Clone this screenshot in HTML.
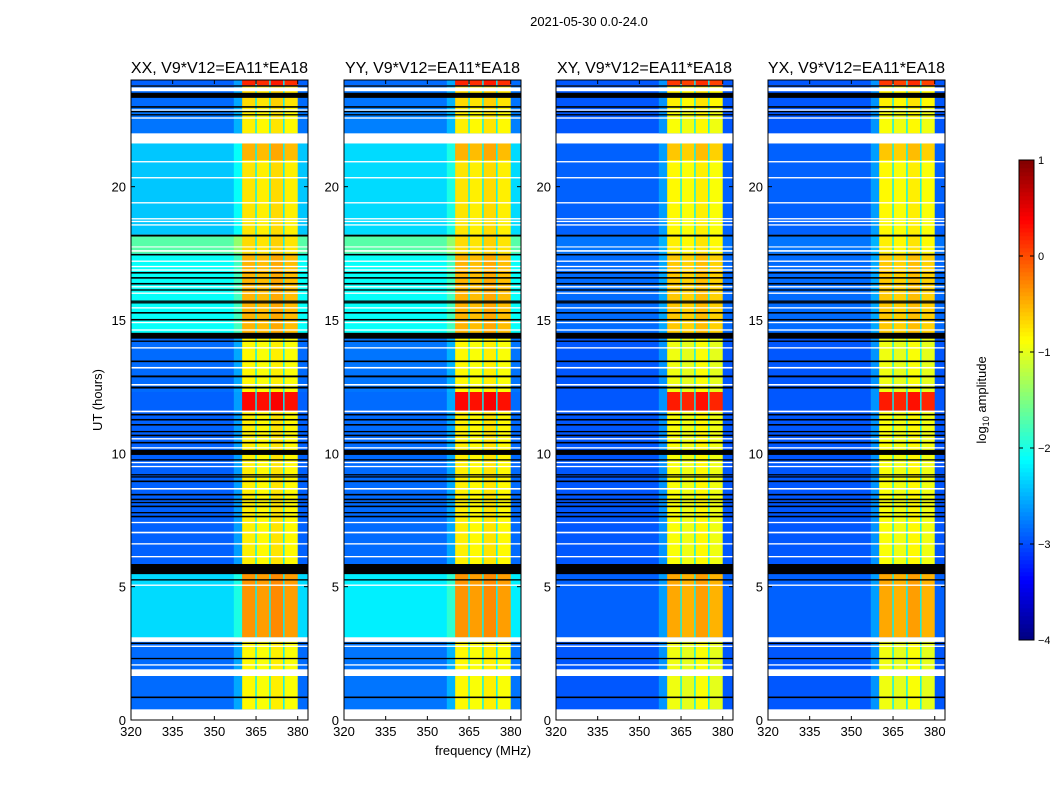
<!DOCTYPE html>
<html><head><meta charset="utf-8">
<style>
body{margin:0;background:#fff;}
svg{display:block;font-family:"Liberation Sans","DejaVu Sans",sans-serif;}
</style></head>
<body>
<svg id="chart" width="1050" height="800" viewBox="0 0 1050 800">
<text x="589" y="26" font-size="13" text-anchor="middle">2021-05-30 0.0-24.0</text>
<text x="483" y="755" font-size="13" text-anchor="middle">frequency (MHz)</text>
<text transform="translate(102,400) rotate(-90)" font-size="13" text-anchor="middle">UT (hours)</text>
<text transform="translate(986,400) rotate(-90)" font-size="13" text-anchor="middle">log<tspan font-size="9" dy="3">10</tspan><tspan dy="-3"> amplitude</tspan></text>
</svg>
<script>
const panelTitles=["XX, V9*V12=EA11*EA18","YY, V9*V12=EA11*EA18","XY, V9*V12=EA11*EA18","YX, V9*V12=EA11*EA18"];
const panelLeft=[131,344,556,768];
const xTicks=[320,335,350,365,380];
const yTicks=[0,5,10,15,20];
const cbTicks=[1,0,-1,-2,-3,-4];
// data segments: start hour, end hour, background level XX, YY, XY, YX, band level
const segStart=[0.4,3.1,5.85,11.6,12.3,14.5,17.5,18.2,21.0,22.0,23.0,23.8];
const segEnd  =[3.1,5.85,11.6,12.3,14.5,17.5,18.2,21.0,21.8,23.0,23.8,24.0];
const bgXX=[-2.85,-2.3,-2.9,-2.9,-2.85,-2.1,-1.7,-2.4,-2.4,-2.8,-2.85,-2.9];
const bgYY=[-2.8,-2.2,-2.85,-2.85,-2.8,-2.1,-1.7,-2.3,-2.3,-2.75,-2.8,-2.85];
const bgXY=[-2.95,-2.9,-2.95,-2.95,-2.95,-2.85,-2.8,-2.9,-2.9,-2.95,-2.95,-2.95];
const bgYX=[-2.95,-2.9,-2.95,-2.95,-2.95,-2.85,-2.8,-2.9,-2.9,-2.95,-2.95,-2.95];
const bandLevel=[-0.85,-0.35,-0.8,0.35,-0.85,-0.5,-0.7,-0.75,-0.5,-0.8,-0.7,0.2];
// band sub-columns (MHz) and relative offsets
const bandEdges=[360,365,370,375,380];
const bandOffset=[0,-0.05,0.05,-0.05];
// flagged rows: start, end, type (k=black, w=white)
const flagStart=[0.0,0.82,1.65,2.04,2.28,2.74,2.85,2.93,5.03,5.23,5.47,6.1,6.58,7.0,7.38,7.6,7.75,7.98,8.13,8.24,8.42,8.64,8.92,9.09,9.17,9.48,9.63,9.73,9.94,10.18,10.37,10.52,10.64,10.79,11.04,11.23,11.42,11.54,12.43,12.54,12.85,13.18,13.42,13.93,14.18,14.3,14.6,14.88,14.98,15.24,15.43,15.62,15.68,15.98,16.1,16.22,16.33,16.55,16.74,16.85,16.98,17.18,17.42,17.56,17.72,18.13,18.54,18.67,18.77,19.37,20.31,20.91,21.62,22.55,22.67,22.79,22.85,22.96,23.33,23.58,23.75];
const flagEnd  =[0.38,0.88,1.9,2.09,2.33,2.79,2.9,3.1,5.08,5.28,5.85,6.15,6.63,7.06,7.43,7.66,7.8,8.04,8.18,8.3,8.48,8.7,8.98,9.14,9.22,9.53,9.68,9.78,10.13,10.23,10.43,10.57,10.7,10.84,11.1,11.29,11.48,11.6,12.5,12.6,12.92,13.24,13.48,13.98,14.23,14.52,14.65,14.93,15.04,15.3,15.48,15.67,15.73,16.03,16.15,16.27,16.39,16.61,16.8,16.9,17.03,17.23,17.48,17.62,17.76,18.2,18.59,18.72,18.82,19.42,20.36,20.96,21.98,22.6,22.72,22.84,22.9,23.02,23.52,23.72,23.8];
const flagType =["w","k","w","w","k","w","k","w","w","k","k","w","w","w","w","k","k","k","k","k","k","w","k","k","k","w","w","k","k","w","k","w","k","k","k","k","k","w","k","w","k","w","k","w","k","k","w","w","k","k","w","k","k","w","k","w","k","k","k","w","w","w","k","w","w","k","w","w","w","w","w","w","w","w","k","k","w","k","k","w","k"];

const NS="http://www.w3.org/2000/svg";
const svg=document.getElementById('chart');
function jet(v){
  let t=(v+4)/5; t=Math.max(0,Math.min(1,t));
  const c=x=>Math.round(255*Math.max(0,Math.min(1,x)));
  const r=c(Math.min(4*t-1.5,-4*t+4.5));
  const g=c(Math.min(4*t-0.5,-4*t+3.5));
  const b=c(Math.min(4*t+0.5,-4*t+2.5));
  return `rgb(${r},${g},${b})`;
}
const PW=177, PT=80, PB=720;
const fMin=320, fMax=383.7, hMax=24;
function mk(tag,attrs,parent){const e=document.createElementNS(NS,tag);for(const k in attrs)e.setAttribute(k,attrs[k]);(parent||svg).appendChild(e);return e;}
const bgs=[bgXX,bgYY,bgXY,bgYX];
panelLeft.forEach((L,p)=>{
  const xs=f=>L+(f-fMin)/(fMax-fMin)*PW;
  const ys=h=>PB-h/hMax*(PB-PT);
  const g=mk('g',{});
  
  
  mk('rect',{x:L,y:PT,width:PW,height:PB-PT,fill:'#fff'},g);
  segStart.forEach((s,i)=>{
    const y0=ys(segEnd[i]),y1=ys(s);
    const r=mk('rect',{x:L,y:y0,width:PW,height:y1-y0,fill:jet(bgs[p][i])},g);
    
    
    mk('rect',{x:xs(357),y:y0,width:xs(360)-xs(357),height:y1-y0,fill:jet(bgs[p][i]+0.3)},g);
    for(let c=0;c<4;c++){
      const br=mk('rect',{x:xs(bandEdges[c]),y:y0,width:xs(bandEdges[c+1])-xs(bandEdges[c]),height:y1-y0,fill:jet(bandLevel[i]+bandOffset[c]-(p>=2?0.1:0))},g);
      
      
    }
    for(let c=1;c<4;c++){
      mk('rect',{x:xs(bandEdges[c])-0.7,y:y0,width:1.4,height:y1-y0,fill:jet(-2.2)},g);
    }
  });
  flagStart.forEach((s,i)=>{
    const y0=ys(flagEnd[i]),y1=ys(s);
    const r=mk('rect',{x:L,y:y0,width:PW,height:Math.max(1,y1-y0),fill:flagType[i]==='k'?'#000':'#fff'},g);
    
    
  });
  mk('rect',{x:L,y:PT,width:PW,height:PB-PT,fill:'none',stroke:'#000','stroke-width':1},g);
  const t=mk('text',{x:L+PW/2,y:73,'font-size':16,'text-anchor':'middle'},g);
  t.textContent=panelTitles[p];
  
  
  xTicks.forEach(f=>{
    const x=xs(f);
    mk('line',{x1:x,x2:x,y1:PB,y2:PB-4,stroke:'#000'},g);
    mk('line',{x1:x,x2:x,y1:PT,y2:PT+4,stroke:'#000'},g);
    const tl=mk('text',{x:x,y:PB+16,'font-size':13,'text-anchor':'middle'},g);
    tl.textContent=f;
    
    
  });
  yTicks.forEach(h=>{
    const y=ys(h);
    mk('line',{x1:L,x2:L+4,y1:y,y2:y,stroke:'#000'},g);
    mk('line',{x1:L+PW,x2:L+PW-4,y1:y,y2:y,stroke:'#000'},g);
    const tl=mk('text',{x:L-5,y:y+5,'font-size':13,'text-anchor':'end'},g);
    tl.textContent=h;
    
    
  });
});
// colorbar
const cbX=1019,cbW=15,cbT=160,cbB=640,cbMin=-4,cbMax=1;
const cy=v=>cbB-(v-cbMin)/(cbMax-cbMin)*(cbB-cbT);
const cg=mk('g',{});


for(let i=0;i<120;i++){
  const v0=cbMin+i*(cbMax-cbMin)/120, v1=cbMin+(i+1)*(cbMax-cbMin)/120;
  mk('rect',{x:cbX,y:cy(v1)-0.3,width:cbW,height:cy(v0)-cy(v1)+0.6,fill:jet((v0+v1)/2)},cg);
}
mk('rect',{x:cbX,y:cbT,width:cbW,height:cbB-cbT,fill:'none',stroke:'#000'},cg);
cbTicks.forEach(v=>{
  const y=cy(v);
  mk('line',{x1:cbX+cbW,x2:cbX+cbW-4,y1:y,y2:y,stroke:'#000'},cg);
  mk('line',{x1:cbX,x2:cbX+4,y1:y,y2:y,stroke:'#000'},cg);
  const tl=mk('text',{x:cbX+cbW+4,y:y+4,'font-size':11},cg);
  tl.textContent=v<0?'\u2212'+(-v):String(v);
  
  
});
</script>
</body></html>
